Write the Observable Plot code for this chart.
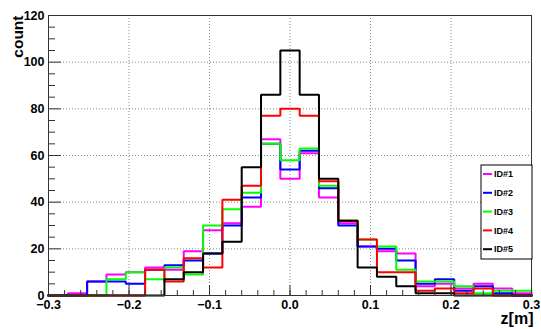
<!DOCTYPE html>
<html>
<head>
<meta charset="utf-8">
<script src="https://cdn.jsdelivr.net/npm/d3@7"></script>
<script src="https://cdn.jsdelivr.net/npm/@observablehq/plot@0.6"></script>
<style>
  body { margin: 0; background: #fff; }
  #chart svg { font-family: "Liberation Sans", Arial, Helvetica, sans-serif; }
</style>
</head>
<body>
<div id="chart"></div>
<script>
// Histogram binning: 25 bins over z in [-0.3, 0.3] m
const binLow = -0.3;
const binWidth = 0.024;
const nBins = 25;

// Bin contents per detector ID
const id1 = [0, 1, 6, 9, 10, 12, 11, 19, 28, 31, 38, 67, 50, 61, 42, 31, 21, 19, 18, 4, 5, 3, 5, 3, 1];
const id2 = [0, 0, 6, 6, 5, 11, 13, 15, 18, 30, 42, 65, 54, 62, 46, 30, 21, 20, 15, 5, 7, 2, 4, 1, 0];
const id3 = [0, 0, 0, 7, 10, 7, 12, 9, 30, 37, 44, 65, 58, 63, 47, 32, 24, 21, 11, 6, 6, 4, 1, 2, 2];
const id4 = [0, 0, 0, 0, 0, 11, 6, 16, 12, 41, 47, 77, 80, 77, 49, 32, 24, 10, 10, 2, 3, 1, 3, 0, 0];
const id5 = [0, 0, 0, 0, 0, 0, 7, 10, 18, 23, 55, 86, 105, 86, 50, 32, 12, 8, 4, 1, 1, 0, 0, 0, 0];

const seriesNames = ["ID#1", "ID#2", "ID#3", "ID#4", "ID#5"];
const seriesValues = [id1, id2, id3, id4, id5];
const seriesColors = ["#ff00ff", "#0000ff", "#00ff00", "#ff0000", "#000000"];

// Axis ticks
const xMajor = [-0.3, -0.2, -0.1, 0, 0.1, 0.2, 0.3];
const xMinor = d3.range(-0.28, 0.3, 0.02).map(v => +v.toFixed(2));
const yMajor = [0, 20, 40, 60, 80, 100, 120];
const yMinor = d3.range(5, 120, 5).filter(v => v % 20 !== 0);

// Step outline points: left edge of each bin at its content, closed at the last edge
function outline(values, name) {
  const pts = values.map((v, k) => ({x: binLow + k * binWidth, y: v, name}));
  pts.push({x: binLow + nBins * binWidth, y: values[values.length - 1], name});
  return pts;
}

function legendMark(index, scales, values, dims) {
  const right = dims.width - dims.marginRight + 1;
  const top = dims.marginTop + 150;
  const w = 51, h = 94, row = 18.8;
  const left = right - w;
  const g = d3.create("svg:g");
  g.append("rect")
    .attr("x", left).attr("y", top).attr("width", w).attr("height", h)
    .attr("fill", "#fff").attr("stroke", "#000").attr("stroke-width", 1);
  seriesNames.forEach((name, i) => {
    const cy = top + 9 + i * row;
    g.append("line")
      .attr("x1", left + 2).attr("x2", left + 11).attr("y1", cy).attr("y2", cy)
      .attr("stroke", seriesColors[i]).attr("stroke-width", 2);
    g.append("text")
      .attr("x", left + 13).attr("y", cy).attr("dy", "0.35em")
      .attr("text-anchor", "start")
      .attr("font-size", 9).attr("font-weight", "bold").attr("fill", "#000")
      .text(name);
  });
  return g.node();
}

const gridStyle = {stroke: "#888", strokeOpacity: 1, strokeDasharray: "1,2", strokeWidth: 1};
const tickStyle = {text: null, label: null, stroke: "#333", strokeOpacity: 1};

const chart = Plot.plot({
  width: 541,
  height: 329,
  marginLeft: 48,
  marginRight: 10,
  marginTop: 15,
  marginBottom: 34,
  style: {fontFamily: "Liberation Sans, Arial, sans-serif", fontSize: "12.5px", fontWeight: "bold", color: "#000", background: "#fff"},
  x: {domain: [-0.3, 0.3]},
  y: {domain: [0, 120]},
  marks: [
    Plot.gridX(xMajor.slice(1, -1), gridStyle),
    Plot.gridY(yMajor.slice(1, -1), gridStyle),
    ...seriesValues.map((vals, i) =>
      Plot.line(outline(vals, seriesNames[i]), {
        x: "x", y: "y", curve: "step-after",
        stroke: seriesColors[i], strokeWidth: 2, strokeLinejoin: "miter", strokeLinecap: "square"
      })
    ),
    Plot.frame({stroke: "#333", strokeWidth: 1}),
    Plot.axisX(xMajor, {tickSize: -10, ...tickStyle}),
    Plot.axisX(xMinor, {tickSize: -5, ...tickStyle}),
    Plot.axisY(yMajor, {tickSize: -13, ...tickStyle}),
    Plot.axisY(yMinor, {tickSize: -7, ...tickStyle}),
    Plot.axisX(xMajor, {tickSize: 0, tickPadding: 5, label: null, fontSize: 12.5, fontWeight: "bold", fill: "#000"}),
    Plot.axisY(yMajor, {tickSize: 0, tickPadding: 4, label: null, fontSize: 12.5, fontWeight: "bold", fill: "#000"}),
    Plot.text(["count"], {
      frameAnchor: "top-left", rotate: -90, textAnchor: "end", lineAnchor: "bottom",
      dx: -25.5, fontSize: 15.5, fontWeight: "bold", fill: "#000"
    }),
    Plot.text(["z[m]"], {
      frameAnchor: "bottom-right", textAnchor: "end", lineAnchor: "bottom",
      dx: 2, dy: 28, fontSize: 16, fontWeight: "bold", fill: "#000"
    }),
    legendMark
  ]
});

document.getElementById("chart").appendChild(chart);
</script>
</body>
</html>
